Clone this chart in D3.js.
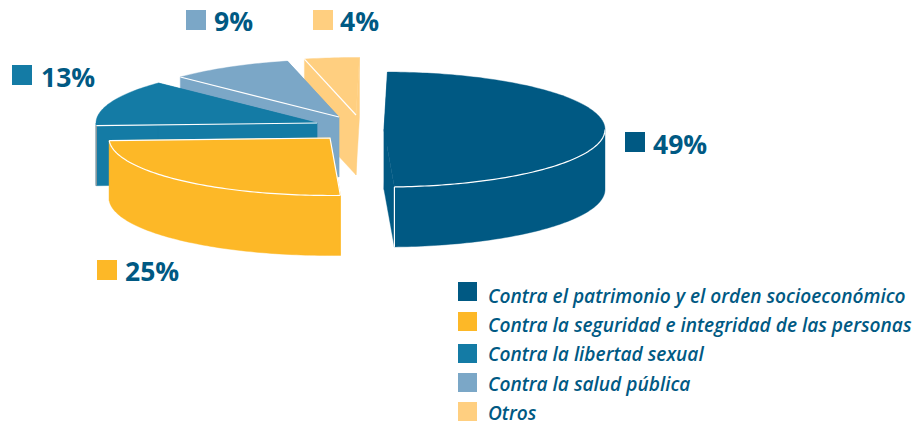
<!DOCTYPE html>
<html><head><meta charset="utf-8">
<style>html,body{margin:0;padding:0;background:#fff}svg{display:block}
text{font-family:"Open Sans",sans-serif;fill:#005983}
.pct{font-size:26.5px;font-weight:700}
.leg{font-size:19.1px;font-weight:600;font-style:italic}</style>
<script src="https://cdn.jsdelivr.net/npm/d3@7/dist/d3.min.js"></script>
</head><body><svg id="c" width="922" height="425"></svg>
<script>
const categories=["Contra el patrimonio y el orden socioeconómico","Contra la seguridad e integridad de las personas","Contra la libertad sexual","Contra la salud pública","Otros"];
const values=[49,25,13,9,4];
const colors=["#005983","#FDB827","#147BA5","#7BA7C7","#FFCF80"];
const tickLabels=values.map(v=>v+"%");

const W={cx:360,cy:125,rx:221,ry:57.5,depth:60,start:0.9};
const explode=[[24,4.5],[-30,13],[-43,-2],[-21,-8],[-4,-10]];
const drawOrder=[4,3,2,0,1];
const calloutPos=[[625,132,653,154],[97,260,125,281],[12,65,41,87],[186,10,214,31],[313,10,340,31]];
const legendY=[282,312,344,373,402];
const legendBase=[303,332,361,391,420];

const svg=d3.select("#c");
const s0=W.start*Math.PI/180;
const arcs=d3.pie().sort(null).startAngle(s0).endAngle(s0+2*Math.PI)(values);
const line=d3.line();
const pt=(c,a,dz=0)=>[c[0]+W.rx*Math.sin(a),c[1]-W.ry*Math.cos(a)+dz];
const sweep=(c,a,b,dz=0)=>{const n=Math.max(2,Math.ceil((b-a)/0.02));return d3.range(n+1).map(i=>pt(c,a+(b-a)*i/n,dz));};

drawOrder.forEach(i=>{
  const d=arcs[i],c=[W.cx+explode[i][0],W.cy+explode[i][1]],a=d.startAngle,b=d.endAngle;
  const g=svg.append("g");
  const faces=[];
  const ca=[c[0],c[1]+W.depth];
  faces.push([c,pt(c,a),pt(c,a,W.depth),ca]);
  faces.push([c,pt(c,b),pt(c,b,W.depth),ca]);
  const lo=Math.max(a,Math.PI/2),hi=Math.min(b,3*Math.PI/2);
  if(hi>lo) faces.push([...sweep(c,lo,hi),...sweep(c,lo,hi,W.depth).reverse()]);
  faces.push([c,...sweep(c,a,b)]);
  faces.forEach(f=>g.append("path").attr("d",line(f)+"Z").attr("fill",colors[i]).attr("stroke",colors[i]).attr("stroke-width",0.4));
  const w=(p,col="#fff")=>g.append("path").attr("d",line(p)).attr("fill","none").attr("stroke",col).attr("stroke-width",1.2);
  if(i===0){ w(sweep(c,lo,hi)); w([pt(c,b),pt(c,b,W.depth)]); }
  if(i===1){ w(sweep(c,lo,hi)); w([pt(c,b),c,pt(c,a)]); }
  if(i>=2) w([c,pt(c,a)]);
  if(i===2) w([pt(c,a),pt(c,a,W.depth)],"#9a9a9a");
});

tickLabels.forEach((t,i)=>{
  const p=calloutPos[i];
  svg.append("rect").attr("x",p[0]).attr("y",p[1]).attr("width",20).attr("height",20).attr("fill",colors[i]);
  svg.append("text").attr("class","pct").attr("x",p[2]).attr("y",p[3]).text(t);
});
categories.forEach((t,i)=>{
  svg.append("rect").attr("x",458).attr("y",legendY[i]).attr("width",19).attr("height",19).attr("fill",colors[i]);
  svg.append("text").attr("class","leg").attr("x",488).attr("y",legendBase[i]).text(t);
});
</script></body></html>
